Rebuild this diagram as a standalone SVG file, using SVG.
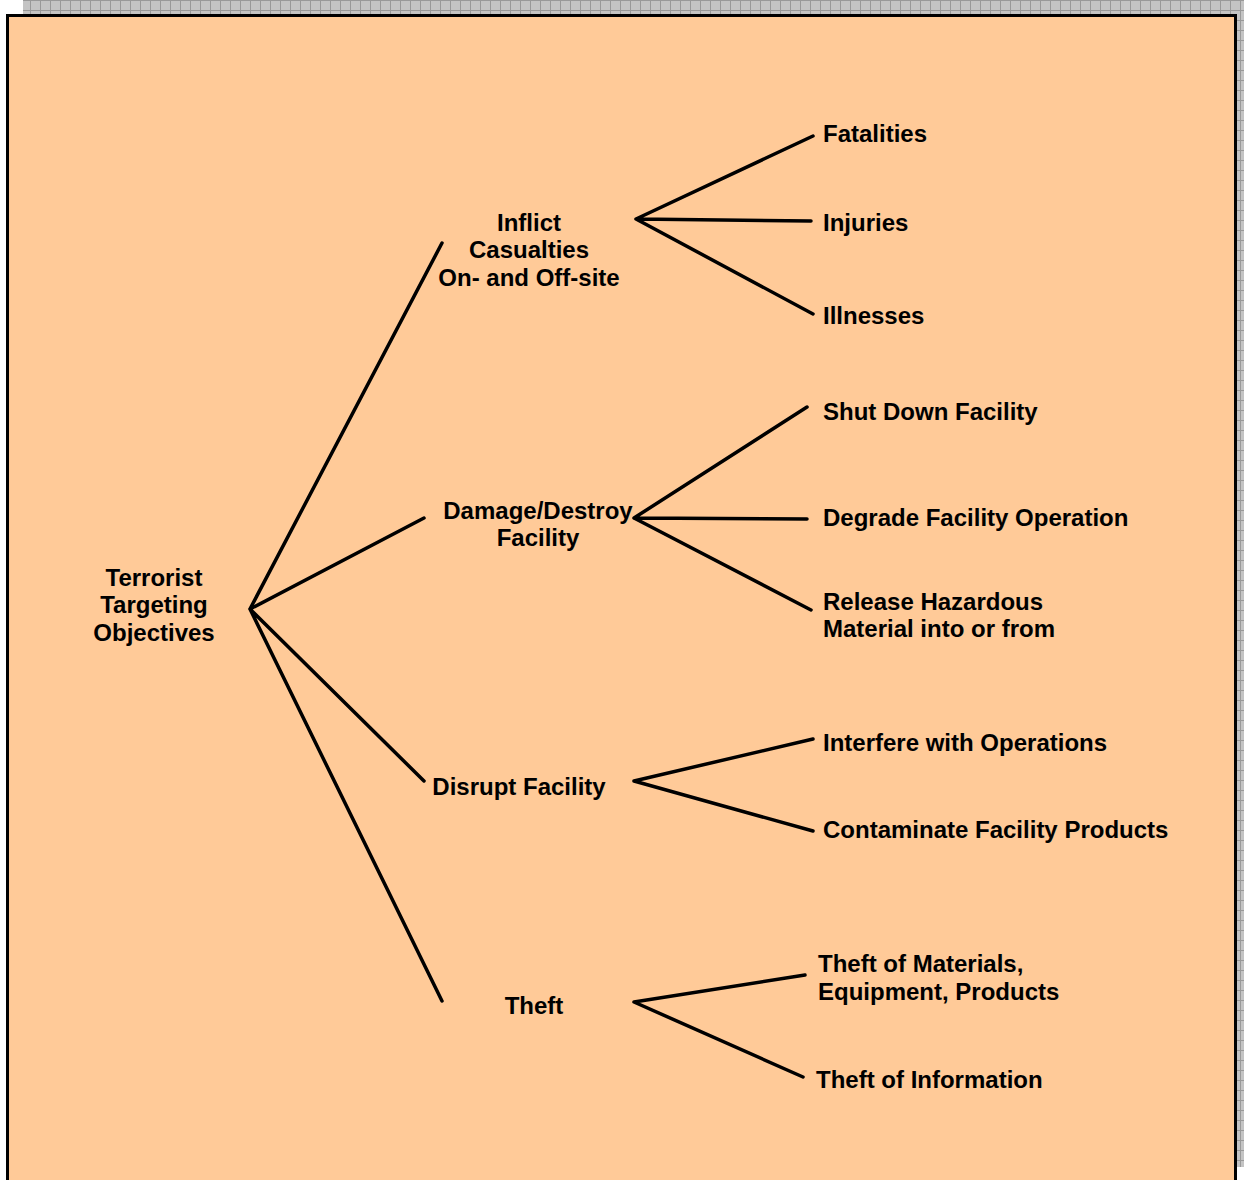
<svg xmlns="http://www.w3.org/2000/svg" width="1244" height="1180" viewBox="0 0 1244 1180">
<defs>
<pattern id="grid" x="0" y="0" width="10" height="10" patternUnits="userSpaceOnUse">
<rect width="10" height="10" fill="#c4c4c4"/>
<path d="M0 0.5H10M0.5 0V10" stroke="#999" stroke-width="1"/>
</pattern>
<style>
.t{font-family:"Liberation Sans",Arial,sans-serif;font-weight:bold;font-size:24px;fill:#000}
.c{text-anchor:middle}
.ln{stroke:#000;stroke-width:3.5;fill:none;stroke-linecap:round}
</style>
</defs>
<rect width="1244" height="1180" fill="#fff"/>
<rect x="23" y="0" width="1221" height="16" fill="url(#grid)"/>
<rect x="1230" y="0" width="14" height="1167" fill="url(#grid)"/>
<rect x="7.5" y="15.5" width="1228" height="1180" fill="#FFCA98" stroke="#000" stroke-width="3"/>
<g id="connectors">
<path class="ln" d="M250 609L442 243M250 609L424 518M250 609L424 781M250 609L442 1001"/>
<path class="ln" d="M636 219L813 136M636 219L811 221M636 219L813 314"/>
<path class="ln" d="M634 518L807 407M634 518L807 519M634 518L811 610"/>
<path class="ln" d="M634 781L813 739M634 781L813 831"/>
<path class="ln" d="M634 1002L805 975M634 1002L803 1077"/>
</g>
<g id="root"><text class="t c" x="154" y="586">Terrorist</text><text class="t c" x="154" y="613">Targeting</text><text class="t c" x="154" y="641">Objectives</text></g>
<g id="inflict"><text class="t c" x="529" y="231">Inflict</text><text class="t c" x="529" y="258">Casualties</text><text class="t c" x="529" y="286">On- and Off-site</text></g>
<g id="damage"><text class="t c" x="538" y="519">Damage/Destroy</text><text class="t c" x="538" y="546">Facility</text></g>
<g id="disrupt"><text class="t c" x="519" y="795">Disrupt Facility</text></g>
<g id="theft"><text class="t c" x="534" y="1014">Theft</text></g>
<g id="fatalities"><text class="t" x="823" y="142">Fatalities</text></g>
<g id="injuries"><text class="t" x="823" y="231">Injuries</text></g>
<g id="illnesses"><text class="t" x="823" y="324">Illnesses</text></g>
<g id="shutdown"><text class="t" x="823" y="420">Shut Down Facility</text></g>
<g id="degrade"><text class="t" x="823" y="526">Degrade Facility Operation</text></g>
<g id="release"><text class="t" x="823" y="610">Release Hazardous</text><text class="t" x="823" y="637">Material into or from</text></g>
<g id="interfere"><text class="t" x="823" y="751">Interfere with Operations</text></g>
<g id="contaminate"><text class="t" x="823" y="838">Contaminate Facility Products</text></g>
<g id="theftmat"><text class="t" x="818" y="972">Theft of Materials,</text><text class="t" x="818" y="1000">Equipment, Products</text></g>
<g id="theftinfo"><text class="t" x="816" y="1088">Theft of Information</text></g>
</svg>
